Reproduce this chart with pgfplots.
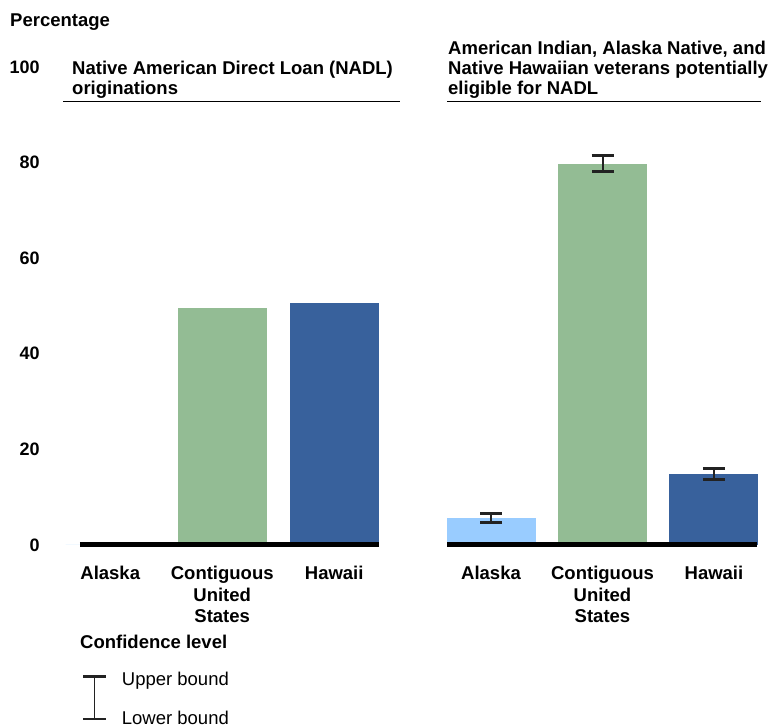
\documentclass[border=0pt]{standalone}
\usepackage{pgfplots}
\pgfplotsset{compat=1.18}
\usepackage{fontspec}
\setmainfont{Liberation Sans}
\definecolor{lblue}{RGB}{153,204,255}
\definecolor{lgreen}{RGB}{147,188,148}
\definecolor{dblue}{RGB}{56,97,156}
\definecolor{ebar}{RGB}{34,34,34}
\newcommand{\fs}{\fontsize{18.5}{21.5}\selectfont}
\begin{document}
\begin{tikzpicture}[x=1pt,y=1pt]
\path[use as bounding box] (0,0) rectangle (771,727);
\pgfplotsset{
  panel/.style={
    scale only axis, height=478pt, ymin=0, ymax=100, clip=false,
    axis lines=left, axis line style={draw=none}, tick style={draw=none},
    xtick={0,1,2},
    xticklabels={Alaska, Contiguous\\United\\States, Hawaii},
    xticklabel style={font=\fs\bfseries, align=center, anchor=north, inner sep=0pt, yshift=-19pt},
    /pgf/number format/assume math mode=true,
  },
  bar/.style={ybar, bar width=89pt, bar shift=0pt, draw=none, fill=#1},
  eb/.style={error bars/.cd, y dir=both, y explicit,
    error bar style={line width=2pt, ebar},
    error mark options={line width=3pt, mark size=11pt, ebar, rotate=90}},
}
\begin{axis}[panel, at={(80pt,182pt)}, anchor=south west, width=299pt,
  xmin=-0.27, xmax=2.40,
  ytick={0,20,40,60,80,100},
  yticklabel style={font=\fontsize{18}{21}\selectfont\bfseries, anchor=east, inner sep=0pt, xshift=-38pt}]
\addplot[bar=lblue] coordinates {(0,0)};
\addplot[bar=lgreen] coordinates {(1,49.5)};
\addplot[bar=dblue] coordinates {(2,50.7)};
\draw[line width=5pt] (rel axis cs:0,0) -- (rel axis cs:1,0);
\end{axis}
\begin{axis}[panel, at={(447pt,182pt)}, anchor=south west, width=310pt,
  xmin=-0.395, xmax=2.386, ytick=\empty]
\addplot[bar=lblue, eb] coordinates {(0,5.6) +- (0,0.95)};
\addplot[bar=lgreen, eb] coordinates {(1,79.8) +- (0,1.6)};
\addplot[bar=dblue, eb] coordinates {(2,14.8) +- (0,1.2)};
\draw[line width=5pt] (rel axis cs:0,0) -- (rel axis cs:1,0);
\end{axis}
% titles
\node[anchor=base west, inner sep=0pt, font=\fs\bfseries] at (10,700.3) {Percentage};
\node[anchor=base west, inner sep=0pt, font=\fs\bfseries] at (72,652) {Native American Direct Loan (NADL)};
\node[anchor=base west, inner sep=0pt, font=\fs\bfseries] at (72,632) {originations};
\node[anchor=base west, inner sep=0pt, font=\fs\bfseries] at (448,672) {American Indian, Alaska Native, and};
\node[anchor=base west, inner sep=0pt, font=\fs\bfseries] at (448,652) {Native Hawaiian veterans potentially};
\node[anchor=base west, inner sep=0pt, font=\fs\bfseries] at (448,632) {eligible for NADL};
\draw[line width=1.2pt] (63,625.3) -- (400,625.3);
\draw[line width=1.2pt] (447,625.3) -- (761,625.3);
% legend
\node[anchor=base west, inner sep=0pt, font=\fs\bfseries] at (80,78) {Confidence level};
\draw[ebar, line width=1.5pt] (94.3,50.3) -- (94.3,8);
\draw[ebar, line width=2.5pt] (83,50.3) -- (105.5,50.3);
\draw[ebar, line width=2.5pt] (83,8) -- (105.5,8);
\node[anchor=base west, inner sep=0pt, font=\fs] at (121.7,41.5) {Upper bound};
\node[anchor=base west, inner sep=0pt, font=\fs] at (121.7,2.5) {Lower bound};
\end{tikzpicture}
\end{document}
